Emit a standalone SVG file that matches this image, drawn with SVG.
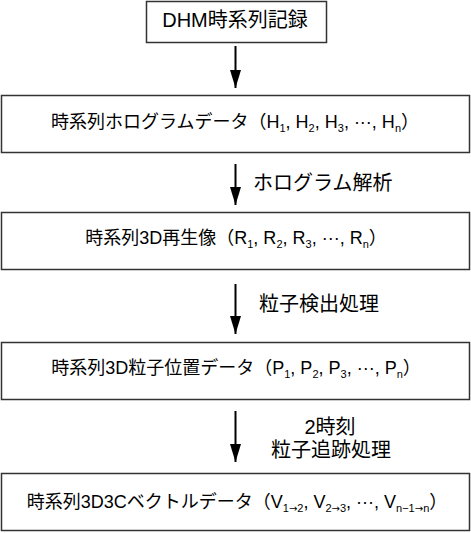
<svg xmlns="http://www.w3.org/2000/svg" width="471" height="533" viewBox="0 0 471 533">
<defs>
<style>
.box{fill:#fff;stroke:#333;stroke-width:1.5}
.t{font-family:"Liberation Sans","Noto Sans CJK JP",sans-serif;font-size:20px;fill:#000}
.b{font-size:18px}
.m{text-anchor:middle}
.s{font-size:11px}
.a{font-family:"DejaVu Sans",sans-serif;font-size:10px}
.ln{stroke:#000;stroke-width:2;fill:none}
</style>
<marker id="ah" viewBox="0 0 18 11" markerWidth="18" markerHeight="11" refX="18" refY="5.5" orient="auto" markerUnits="userSpaceOnUse">
<path d="M0,0 L18,5.5 L0,11 Z" fill="#000"/>
</marker>
</defs>
<rect width="471" height="533" fill="#fff"/>
<g id="n1">
<rect class="box" x="146.5" y="1.5" width="180" height="41"/>
<text class="t m" x="235" y="27">DHM時系列記録</text>
</g>
<g id="n2">
<rect class="box" x="1.5" y="95.5" width="468" height="57"/>
<text class="t b m" x="235" y="128">時系列ホログラムデータ（H<tspan class="s" dy="4">1</tspan><tspan dy="-4">, H</tspan><tspan class="s" dy="4">2</tspan><tspan dy="-4">, H</tspan><tspan class="s" dy="4">3</tspan><tspan dy="-4">, ···, H</tspan><tspan class="s" dy="4">n</tspan><tspan dy="-4">）</tspan></text>
</g>
<g id="n3">
<rect class="box" x="1.5" y="212.5" width="468" height="57"/>
<text class="t b m" x="236" y="244">時系列3D再生像（R<tspan class="s" dy="4">1</tspan><tspan dy="-4">, R</tspan><tspan class="s" dy="4">2</tspan><tspan dy="-4">, R</tspan><tspan class="s" dy="4">3</tspan><tspan dy="-4">, ···, R</tspan><tspan class="s" dy="4">n</tspan><tspan dy="-4">）</tspan></text>
</g>
<g id="n4">
<rect class="box" x="1.5" y="342.5" width="468" height="57"/>
<text class="t b m" x="236" y="374">時系列3D粒子位置データ（P<tspan class="s" dy="4">1</tspan><tspan dy="-4">, P</tspan><tspan class="s" dy="4">2</tspan><tspan dy="-4">, P</tspan><tspan class="s" dy="4">3</tspan><tspan dy="-4">, ···, P</tspan><tspan class="s" dy="4">n</tspan><tspan dy="-4">）</tspan></text>
</g>
<g id="n5">
<rect class="box" x="1.5" y="473.5" width="468" height="57"/>
<text class="t b m" x="237" y="508">時系列3D3Cベクトルデータ（V<tspan class="s" dy="4">1<tspan class="a">→</tspan>2</tspan><tspan dy="-4">, V</tspan><tspan class="s" dy="4">2<tspan class="a">→</tspan>3</tspan><tspan dy="-4">, ···, V</tspan><tspan class="s" dy="4">n−1<tspan class="a">→</tspan>n</tspan><tspan dy="-4">）</tspan></text>
</g>
<g id="connectors">
<line class="ln" x1="235.5" y1="46" x2="235.5" y2="88" marker-end="url(#ah)"/>
<line class="ln" x1="235.5" y1="164" x2="235.5" y2="205" marker-end="url(#ah)"/>
<line class="ln" x1="235.5" y1="284" x2="235.5" y2="334" marker-end="url(#ah)"/>
<line class="ln" x1="235.5" y1="411" x2="235.5" y2="462" marker-end="url(#ah)"/>
<text class="t" x="253" y="190">ホログラム解析</text>
<text class="t" x="259" y="311">粒子検出処理</text>
<text class="t m" x="330" y="434">2時刻</text>
<text class="t m" x="331" y="457">粒子追跡処理</text>
</g>
</svg>
